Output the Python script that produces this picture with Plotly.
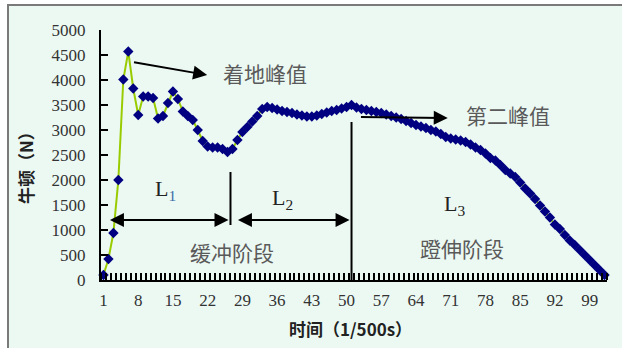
import plotly.graph_objects as go

# Ground reaction force (N) sampled at 1/500 s
force = [
    100, 420, 940, 2000, 4010, 4570, 3830, 3300, 3670, 3670,
    3640, 3230, 3280, 3540, 3770, 3620, 3370, 3280, 3200, 3000,
    2780, 2670, 2650, 2650, 2620, 2560, 2620, 2800, 2960, 3060,
    3170, 3280, 3420, 3460, 3440, 3410, 3380, 3360, 3340, 3310,
    3290, 3270, 3270, 3290, 3320, 3350, 3380, 3400, 3430, 3460,
    3500, 3450, 3420, 3400, 3380, 3360, 3340, 3310, 3280, 3250,
    3220, 3180, 3140, 3100, 3070, 3040, 3000, 2970, 2920, 2860,
    2830, 2810, 2790, 2760, 2710, 2650, 2600, 2530, 2440, 2390,
    2300, 2200, 2130, 2060, 1950, 1830, 1730, 1620, 1490, 1370,
    1250, 1110, 1020, 900, 790, 700, 600, 500, 400, 300,
    200, 100,
]
frames = list(range(1, len(force) + 1))
x_tick_vals = list(range(1, 100, 7))
x_tick_text = [str(v) for v in x_tick_vals]
y_tick_vals = list(range(0, 5001, 500))

W, H = 622, 348
ML, MR, MT, MB = 101, 15, 30, 68
PW, PH = W - ML - MR, H - MT - MB

def px(xp):
    return (xp - ML) / PW

def py(yp):
    return (H - MB - yp) / PH

BG = "#ecf9f3"
NUM_FONT = "Liberation Serif, DejaVu Serif, serif"
CJK_FONT = "Noto Sans CJK SC, sans-serif"

fig = go.Figure()
fig.add_trace(go.Scatter(
    x=frames, y=force, mode="lines+markers",
    line=dict(color="#99cc00", width=2),
    marker=dict(symbol="diamond", size=8, color="#000080"),
    cliponaxis=False, showlegend=False,
))

shapes = [
    # chart frame
    dict(type="rect", xref="paper", yref="paper",
         x0=px(8), x1=px(630), y0=py(355), y1=py(5),
         fillcolor=BG, line=dict(color="#7a7a7a", width=2), layer="below"),
    # phase dividers
    dict(type="line", xref="x", yref="y", x0=26.6, x1=26.6, y0=1100, y1=2160,
         line=dict(color="black", width=2)),
    dict(type="line", xref="x", yref="y", x0=51.0, x1=51.0, y0=-100, y1=3160,
         line=dict(color="black", width=2)),
]

def arrow(x0, y0, x1, y1, both=False):
    return dict(x=x1, y=y1, ax=x0, ay=y0, xref="x", yref="y", axref="x", ayref="y",
                text="", showarrow=True, arrowhead=2, startarrowhead=2,
                arrowsize=1.4, startarrowsize=1.4, arrowwidth=2, arrowcolor="black",
                arrowside="end+start" if both else "end", standoff=0, startstandoff=0)

def label(x, y, text, size=21, color="#5a5a5a", font=CJK_FONT, xanchor="center"):
    return dict(x=x, y=y, xref="x", yref="y", text=text, showarrow=False,
                xanchor=xanchor, yanchor="middle",
                font=dict(family=font, size=size, color=color))

annotations = [
    arrow(6.85, 4360, 21.9, 4100),
    arrow(52.6, 3260, 70.4, 3240),
    arrow(2.0, 1200, 26.2, 1200, both=True),
    arrow(27.8, 1200, 50.6, 1200, both=True),
    arrow(1.2, -80, 50.0, -80, both=True),
    arrow(51.6, -80, 101.6, -80, both=True),
    label(24.6, 4140, "着地峰值", xanchor="left"),
    label(73.6, 3300, "第二峰值", xanchor="left"),
    label(27.0, 560, "缓冲阶段"),
    label(73.2, 640, "蹬伸阶段"),
    label(13.5, 1800, "L<sub><span style='color:#3a6ea5'>1</span></sub>",
          size=22, color="#222222", font=NUM_FONT),
    label(37.1, 1620, "L<sub>2</sub>", size=22, color="#222222", font=NUM_FONT),
    label(71.8, 1500, "L<sub>3</sub>", size=22, color="#222222", font=NUM_FONT),
    dict(x=px(350), y=py(328), xref="paper", yref="paper", showarrow=False,
         text="<b>时间（1/500s）</b>", xanchor="center", yanchor="middle",
         font=dict(family=CJK_FONT, size=17, color="#222222")),
    dict(x=px(25), y=py(164), xref="paper", yref="paper", showarrow=False,
         text="<b>牛顿（N）</b>", textangle=-90, xanchor="center", yanchor="middle",
         font=dict(family=CJK_FONT, size=17, color="#222222")),
]

fig.update_layout(
    width=W, height=H,
    margin=dict(l=ML, r=MR, t=MT, b=MB, pad=0),
    paper_bgcolor="white", plot_bgcolor="rgba(0,0,0,0)",
    shapes=shapes, annotations=annotations,
    xaxis=dict(
        range=[0.5, len(force) + 0.5], tickmode="array",
        tickvals=x_tick_vals, ticktext=x_tick_text, ticks="",
        minor=dict(tickmode="linear", tick0=0.5, dtick=1, ticks="inside",
                   ticklen=7, tickwidth=1.5, tickcolor="black", showgrid=False),
        showline=True, linecolor="black", linewidth=2, showgrid=False, zeroline=False,
        ticklabelstandoff=4,
        tickfont=dict(family=NUM_FONT, size=17, color="#333333"),
    ),
    yaxis=dict(
        range=[0, 5000], tickmode="array", tickvals=y_tick_vals,
        ticks="inside", ticklen=7, tickwidth=2, tickcolor="black",
        showline=True, linecolor="black", linewidth=2, showgrid=False, zeroline=False,
        ticklabelstandoff=10,
        tickfont=dict(family=NUM_FONT, size=17, color="#333333"),
    ),
)

fig.write_html("out.html")
